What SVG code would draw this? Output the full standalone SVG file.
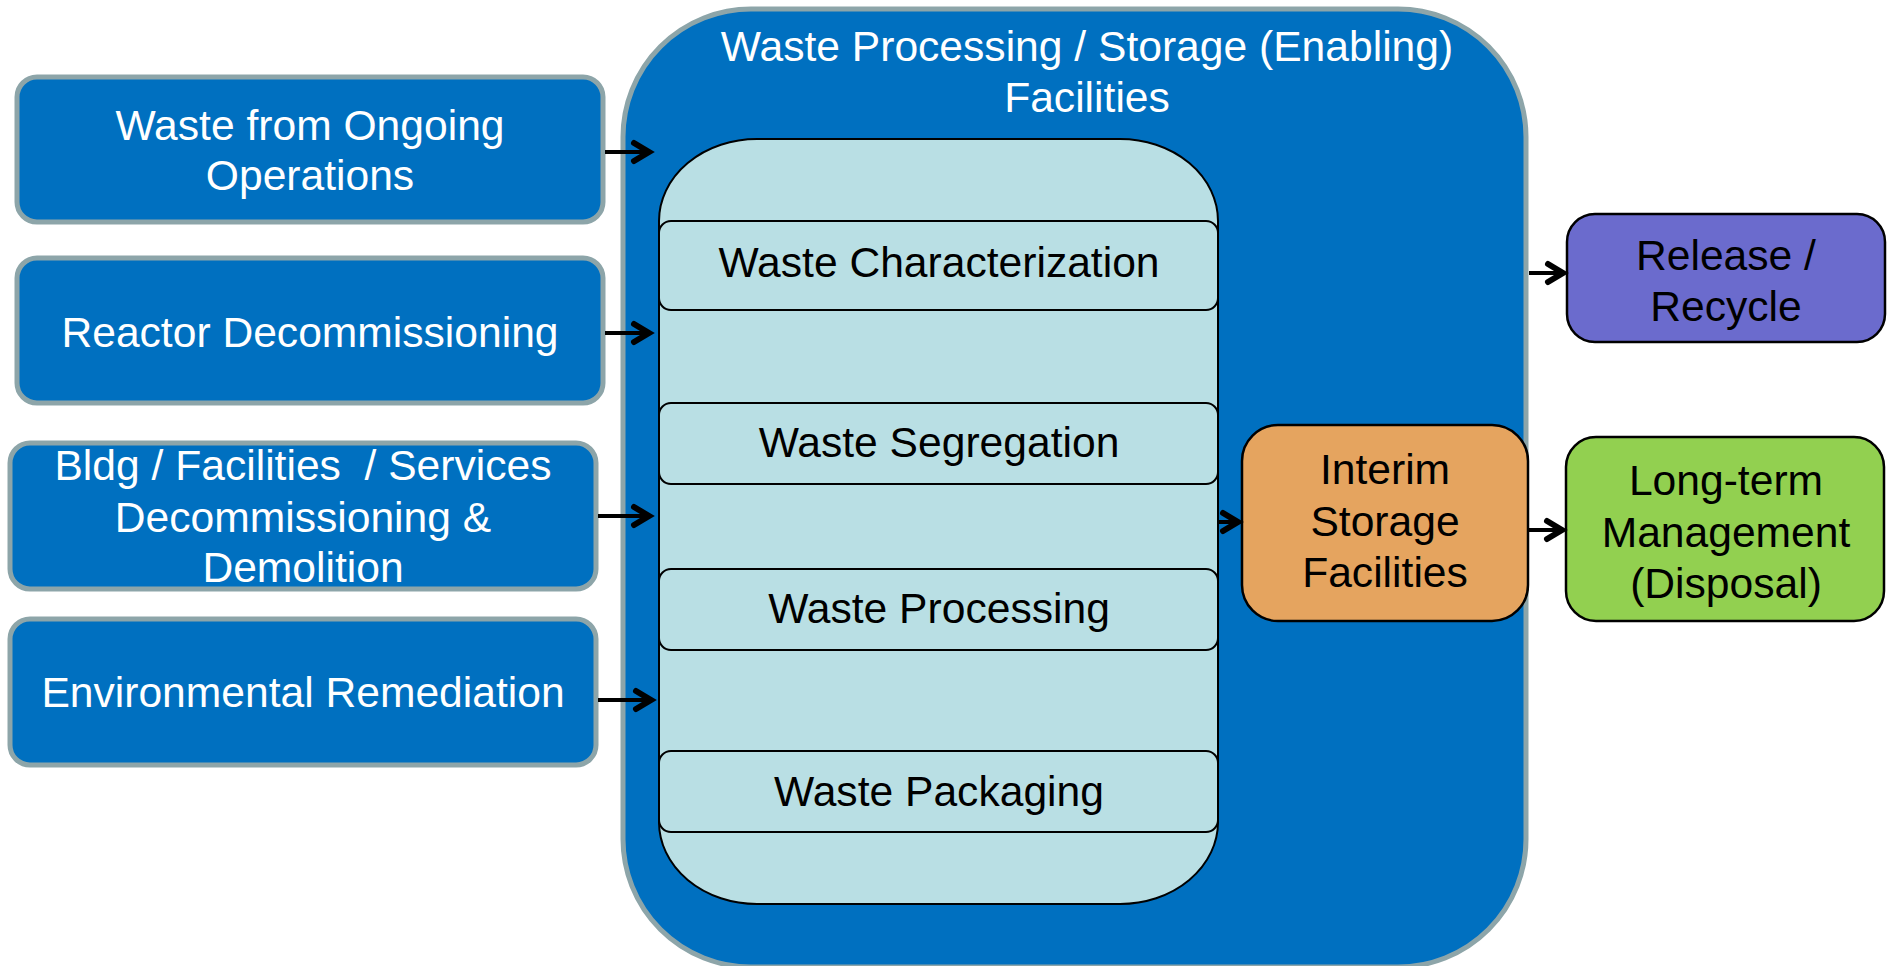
<svg xmlns="http://www.w3.org/2000/svg" width="1894" height="966" viewBox="0 0 1894 966">
<style>
text{font-family:"Liberation Sans",Arial,sans-serif;font-size:42.6px;text-anchor:middle}
.w{fill:#ffffff}
.k{fill:#000000}
.src{fill:#0070C0;stroke:#8DA5A9;stroke-width:5}
.step{fill:#B9DFE4;stroke:#000;stroke-width:2}
.conn{stroke:#000;stroke-width:4;fill:none;marker-end:url(#arr)}
</style>
<defs>
<marker id="arr" markerUnits="userSpaceOnUse" viewBox="-24 -16 28 32" markerWidth="28" markerHeight="32" refX="0" refY="0" orient="auto">
<path d="M-17,-9 L-2,0 L-17,9" fill="none" stroke="#000" stroke-width="6" stroke-linecap="round" stroke-linejoin="miter"/>
</marker>
</defs>
<rect width="1894" height="966" fill="#ffffff"/>

<g id="container">
<rect x="623" y="9" width="903" height="958" rx="128" ry="128" fill="#0070C0" stroke="#8DA5A9" stroke-width="5"/>
<text class="w" x="1087" y="61">Waste Processing / Storage (Enabling)</text>
<text class="w" x="1087" y="112">Facilities</text>
</g>

<g id="inner">
<rect x="659" y="139" width="559" height="765" rx="98" ry="82" fill="#B9DFE4" stroke="#000" stroke-width="2"/>
</g>

<g id="characterization">
<rect class="step" x="659" y="221" width="559" height="89" rx="12"/>
<text class="k" x="939" y="277">Waste Characterization</text>
</g>
<g id="segregation">
<rect class="step" x="659" y="403" width="559" height="81" rx="12"/>
<text class="k" x="939" y="457">Waste Segregation</text>
</g>
<g id="processing">
<rect class="step" x="659" y="569" width="559" height="81" rx="12"/>
<text class="k" x="939" y="623">Waste Processing</text>
</g>
<g id="packaging">
<rect class="step" x="659" y="751" width="559" height="81" rx="12"/>
<text class="k" x="939" y="806">Waste Packaging</text>
</g>

<g id="ongoing">
<rect class="src" x="17" y="77" width="586" height="145" rx="20"/>
<text class="w" x="310" y="140">Waste from Ongoing</text>
<text class="w" x="310" y="190">Operations</text>
</g>
<g id="reactor">
<rect class="src" x="17" y="258" width="586" height="145" rx="20"/>
<text class="w" x="310" y="347">Reactor Decommissioning</text>
</g>
<g id="bldg">
<rect class="src" x="10" y="443" width="586" height="146" rx="20"/>
<text class="w" x="303" y="480" xml:space="preserve">Bldg / Facilities  / Services</text>
<text class="w" x="303" y="532">Decommissioning &amp;</text>
<text class="w" x="303" y="582">Demolition</text>
</g>
<g id="environmental">
<rect class="src" x="10" y="619" width="586" height="146" rx="20"/>
<text class="w" x="303" y="707">Environmental Remediation</text>
</g>

<g id="interim">
<rect x="1242" y="425" width="286" height="196" rx="36" fill="#E5A45F" stroke="#000" stroke-width="2.5"/>
<text class="k" x="1385" y="484">Interim</text>
<text class="k" x="1385" y="536">Storage</text>
<text class="k" x="1385" y="587">Facilities</text>
</g>
<g id="release">
<rect x="1567" y="214" width="318" height="128" rx="28" fill="#6B6BCD" stroke="#000" stroke-width="2.5"/>
<text class="k" x="1726" y="270">Release /</text>
<text class="k" x="1726" y="321">Recycle</text>
</g>
<g id="longterm">
<rect x="1566" y="437" width="318" height="184" rx="30" fill="#92D050" stroke="#000" stroke-width="2.5"/>
<text class="k" x="1726" y="495">Long-term</text>
<text class="k" x="1726" y="547">Management</text>
<text class="k" x="1726" y="598">(Disposal)</text>
</g>

<g id="connectors">
<line class="conn" x1="605" y1="152" x2="651" y2="152"/>
<line class="conn" x1="605" y1="333" x2="651" y2="333"/>
<line class="conn" x1="598" y1="516" x2="651" y2="516"/>
<line class="conn" x1="598" y1="700" x2="653" y2="700"/>
<line class="conn" x1="1219" y1="522" x2="1240" y2="522"/>
<line class="conn" x1="1529" y1="530" x2="1564" y2="530"/>
<line class="conn" x1="1529" y1="273" x2="1565" y2="273"/>
</g>
</svg>
